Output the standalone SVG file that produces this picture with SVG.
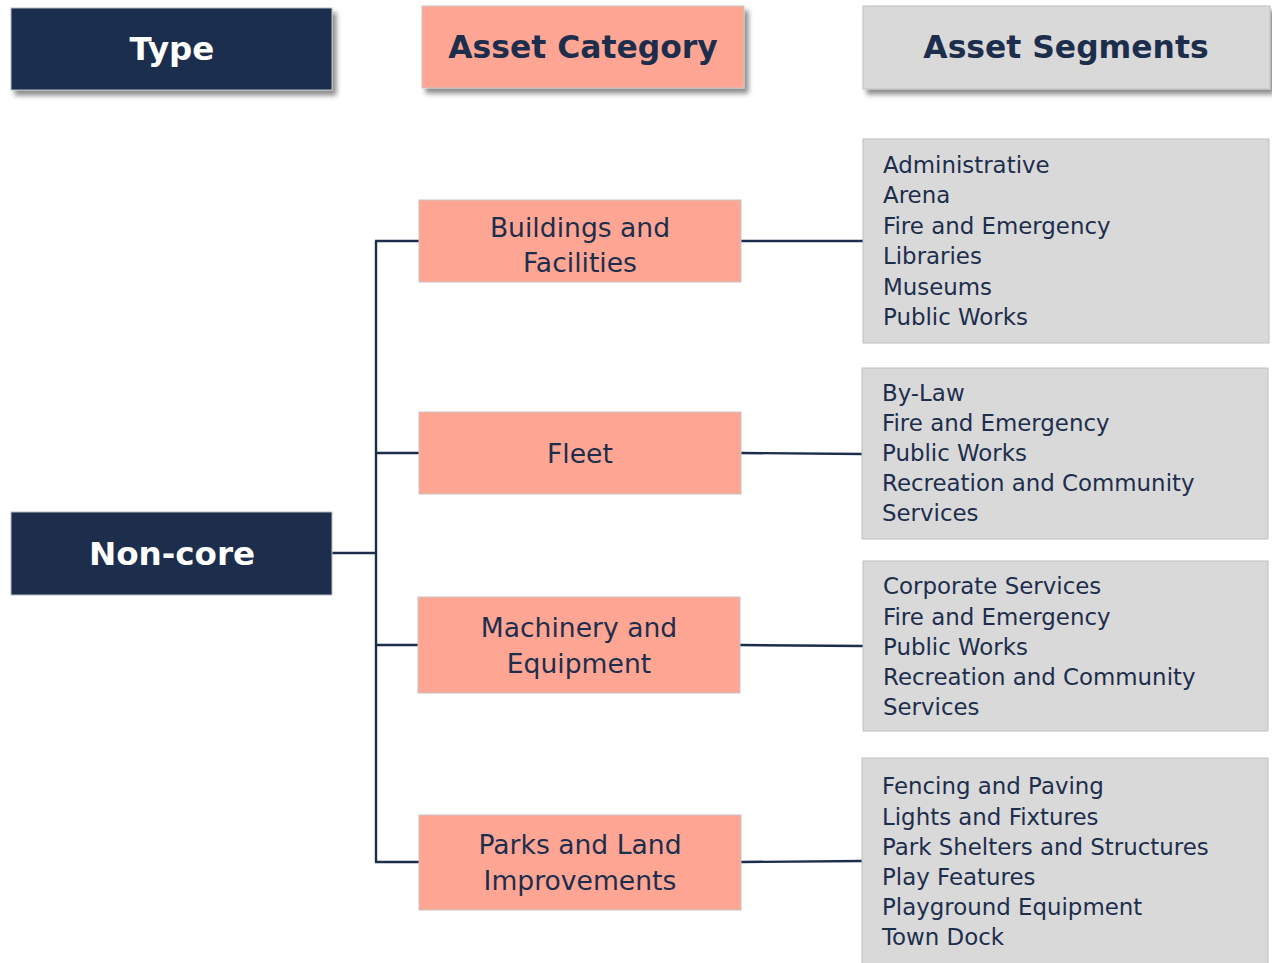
<svg xmlns="http://www.w3.org/2000/svg" width="1272" height="963" viewBox="0 0 1272 963">
  <style>
    .dark { fill: #1d2e4d; stroke: #b8bcc4; stroke-width: 1; }
    .salmon { fill: #fea693; stroke: #c9c3c1; stroke-width: 1; }
    .grey { fill: #d9d9d9; stroke: #bfbfbf; stroke-width: 1; }
    .hdr { font-family: "DejaVu Sans", Verdana, sans-serif; font-weight: bold; font-size: 31.4px; text-anchor: middle; }
    .cat { font-family: "DejaVu Sans", Verdana, sans-serif; font-size: 26.6px; fill: #1d2e4d; text-anchor: middle; }
    .seg { font-family: "DejaVu Sans", Verdana, sans-serif; font-size: 22.9px; fill: #1d2e4d; }
    .wire { fill: none; stroke: #1d2e4d; stroke-width: 2.4; }
  </style>
  <defs>
    <filter id="lift" x="-5%" y="-10%" width="115%" height="135%">
      <feDropShadow dx="4" dy="5" stdDeviation="2.5" flood-color="#000" flood-opacity="0.45"/>
    </filter>
  </defs>
  <rect width="1272" height="963" fill="#ffffff"/>

  <!-- connectors -->
  <g id="connectors" class="wire">
    <path d="M332 553 H376"/>
    <path d="M376 241 V862"/>
    <path d="M375 241 H419"/>
    <path d="M375 453 H419"/>
    <path d="M375 645 H418"/>
    <path d="M375 862 H419"/>
    <path d="M741 241 H863"/>
    <path d="M741 453 L862 454"/>
    <path d="M740 645 L863 646"/>
    <path d="M741 862 L862 861"/>
  </g>

  <!-- column headers -->
  <g id="hdr-type">
    <rect class="dark" x="11" y="8" width="321" height="82" filter="url(#lift)"/>
    <text class="hdr" x="172" y="60" fill="#ffffff" style="font-size:32.5px">Type</text>
  </g>
  <g id="hdr-category">
    <rect class="salmon" x="422" y="6" width="322" height="82" filter="url(#lift)"/>
    <text class="hdr" x="583" y="58" fill="#1d2e4d">Asset Category</text>
  </g>
  <g id="hdr-segments">
    <rect class="grey" x="863" y="6" width="407" height="83" filter="url(#lift)"/>
    <text class="hdr" x="1066" y="58" fill="#1d2e4d">Asset Segments</text>
  </g>

  <!-- type -->
  <g id="non-core">
    <rect class="dark" x="11" y="512" width="321" height="83"/>
    <text class="hdr" x="172" y="565" fill="#ffffff" style="font-size:32.6px">Non-core</text>
  </g>

  <!-- asset categories -->
  <g id="cat-buildings">
    <rect class="salmon" x="419" y="200" width="322" height="82"/>
    <text class="cat" x="580" y="237">Buildings and</text>
    <text class="cat" x="580" y="272">Facilities</text>
  </g>
  <g id="cat-fleet">
    <rect class="salmon" x="419" y="412" width="322" height="82"/>
    <text class="cat" x="580" y="463">Fleet</text>
  </g>
  <g id="cat-machinery">
    <rect class="salmon" x="418" y="597" width="322" height="96"/>
    <text class="cat" x="579" y="637">Machinery and</text>
    <text class="cat" x="579" y="673">Equipment</text>
  </g>
  <g id="cat-parks">
    <rect class="salmon" x="419" y="815" width="322" height="95"/>
    <text class="cat" x="580" y="854">Parks and Land</text>
    <text class="cat" x="580" y="890">Improvements</text>
  </g>

  <!-- asset segments -->
  <g id="seg-buildings">
    <rect class="grey" x="863" y="139" width="406" height="204"/>
    <text class="seg" x="883" y="173">Administrative</text>
    <text class="seg" x="883" y="203">Arena</text>
    <text class="seg" x="883" y="234">Fire and Emergency</text>
    <text class="seg" x="883" y="264">Libraries</text>
    <text class="seg" x="883" y="295">Museums</text>
    <text class="seg" x="883" y="325">Public Works</text>
  </g>
  <g id="seg-fleet">
    <rect class="grey" x="862" y="368" width="406" height="171"/>
    <text class="seg" x="882" y="401">By-Law</text>
    <text class="seg" x="882" y="431">Fire and Emergency</text>
    <text class="seg" x="882" y="461">Public Works</text>
    <text class="seg" x="882" y="491">Recreation and Community</text>
    <text class="seg" x="882" y="521">Services</text>
  </g>
  <g id="seg-machinery">
    <rect class="grey" x="863" y="561" width="405" height="170"/>
    <text class="seg" x="883" y="594">Corporate Services</text>
    <text class="seg" x="883" y="625">Fire and Emergency</text>
    <text class="seg" x="883" y="655">Public Works</text>
    <text class="seg" x="883" y="685">Recreation and Community</text>
    <text class="seg" x="883" y="715">Services</text>
  </g>
  <g id="seg-parks">
    <rect class="grey" x="862" y="758" width="406" height="215"/>
    <text class="seg" x="882" y="794">Fencing and Paving</text>
    <text class="seg" x="882" y="825">Lights and Fixtures</text>
    <text class="seg" x="882" y="855">Park Shelters and Structures</text>
    <text class="seg" x="882" y="885">Play Features</text>
    <text class="seg" x="882" y="915">Playground Equipment</text>
    <text class="seg" x="882" y="945">Town Dock</text>
  </g>
</svg>
